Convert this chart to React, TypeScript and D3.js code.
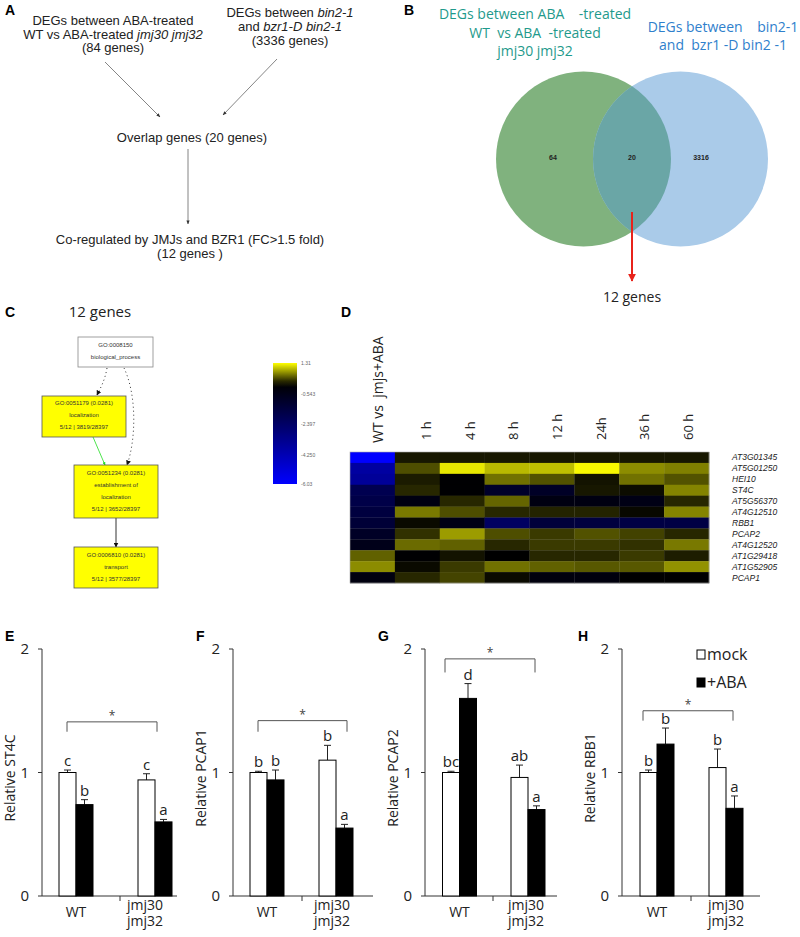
import React from 'react';
import * as d3 from 'd3';

// ---------------- Panel A: flow text ----------------
const flowLeft = ['DEGs between ABA-treated', 'WT vs ABA-treated ', 'jmj30 jmj32', '(84 genes)'];
const flowRight = ['DEGs between ', 'bin2-1', 'and ', 'bzr1-D bin2-1', '(3336 genes)'];
const flowOverlap = 'Overlap genes (20 genes)';
const flowFinal = ['Co-regulated by JMJs and BZR1 (FC>1.5 fold)', '(12 genes\u00a0)'];

// ---------------- Panel B: Venn ----------------
const vennTitleA = ['DEGs between ABA\u00a0\u00a0\u00a0\u00a0-treated', 'WT\u00a0\u00a0vs ABA\u00a0\u00a0-treated', 'jmj30 jmj32'];
const vennTitleB = ['DEGs between\u00a0\u00a0\u00a0\u00a0bin2-1', 'and\u00a0\u00a0bzr1\u00a0-D bin2\u00a0-1'];
const vennCounts = [64, 20, 3316];
const vennResult = '12 genes';

// ---------------- Panel C: GO graph ----------------
const goIds = ['GO:0008150', 'GO:0051179 (0.0281)', 'GO:0051234 (0.0281)', 'GO:0006810 (0.0281)'];
const goNames = [['biological_process'], ['localization'], ['establishment of', 'localization'], ['transport']];
const goCounts = ['', '5/12 | 3819/28397', '5/12 | 3652/28397', '5/12 | 3577/28397'];
const goTitle = '12 genes';

// ---------------- Panel D: heatmap ----------------
const genes = ['AT3G01345', 'AT5G01250', 'HEI10', 'ST4C', 'AT5G56370', 'AT4G12510', 'RBB1', 'PCAP2', 'AT4G12520', 'AT1G29418', 'AT1G52905', 'PCAP1'];
const heatColumns = ['WT vs\u00a0\u00a0jmjs+ABA', '1 h', '4 h', '8 h', '12 h', '24h', '36 h', '60 h'];
const heatValues = [
  [-6.03, 0.12, 0.12, 0.12, 0.12, 0.12, 0.12, 0.12],
  [-3.8, 0.4, 1.18, 0.95, 0.98, 1.28, 0.72, 0.66],
  [-3.6, 0.14, -0.05, 0.58, 0.42, 0.1, 0.58, 0.42],
  [-1.9, 0.2, -0.05, -1.0, -0.9, 0.12, 0.06, 0.68],
  [-1.7, -0.4, 0.2, 0.52, -0.4, -0.4, -0.5, 0.2],
  [-1.5, 0.62, 0.4, 0.2, 0.18, 0.18, 0.04, 0.68],
  [-1.3, 0.05, -0.5, -2.3, -1.4, -1.5, -1.6, -1.6],
  [-0.9, 0.25, 0.8, 0.4, 0.3, 0.42, 0.34, 0.2],
  [-0.6, 0.55, 0.5, 0.2, 0.3, 0.3, 0.25, 0.62],
  [0.5, -0.05, 0.1, 0.0, 0.2, 0.2, 0.3, 0.15],
  [0.72, 0.05, 0.3, 0.58, 0.5, 0.45, 0.45, 0.75],
  [-0.35, 0.2, 0.35, 0.05, -0.3, -0.3, 0.0, 0.0],
];
const colorMin = -6.03;
const colorMax = 1.31;
const colorbarTicks = [1.31, -0.543, -2.397, -4.25, -6.03];
const colorbarLabels = ['1.31', '-0.543', '-2.397', '-4.250', '-6.03'];

// ---------------- Panels E-H: bar charts ----------------
const barGroups = ['WT', 'jmj30 jmj32'];
const treatments = ['mock', '+ABA'];
const yTicks = [0, 1, 2];

const st4cMean = [1.0, 0.74, 0.94, 0.6];
const st4cErr = [0.02, 0.04, 0.05, 0.02];
const st4cLetters = ['c', 'b', 'c', 'a'];

const pcap1Mean = [1.0, 0.94, 1.1, 0.55];
const pcap1Err = [0.01, 0.08, 0.12, 0.03];
const pcap1Letters = ['b', 'b', 'b', 'a'];

const pcap2Mean = [1.0, 1.6, 0.96, 0.7];
const pcap2Err = [0.01, 0.12, 0.1, 0.03];
const pcap2Letters = ['bc', 'd', 'ab', 'a'];

const rbb1Mean = [1.0, 1.23, 1.04, 0.71];
const rbb1Err = [0.02, 0.13, 0.15, 0.1];
const rbb1Letters = ['b', 'b', 'b', 'a'];

const bracketTop = [1.41, 1.42, 1.92, 1.5];
const bracketLeg = [1.33, 1.33, 1.81, 1.42];

const SANS = 'Liberation Sans, Arial, sans-serif';
const MYR = 'Open Sans, Noto Sans, sans-serif';

function BarPanel({ letter, gene, mean, err, letters, top, leg, L, legend }: any) {
  const y = d3.scaleLinear().domain([0, 2]).range([896, 649]);
  const gx = d3.scalePoint<string>().domain(barGroups).range(L.groups);
  const bw = 17;
  const bars = mean.map((m: number, i: number) => {
    const g = barGroups[Math.floor(i / 2)];
    const t = i % 2;
    const x0 = (gx(g) as number) - bw + t * bw;
    return { m, e: err[i], l: letters[i], x0, t };
  });
  const jx = (gx(barGroups[1]) as number) + L.labelShift;
  return (
    <g>
      <text x={L.labelX} y={641} fontFamily={SANS} fontWeight="bold" fontSize={14}>{letter}</text>
      <text transform={`translate(${L.axisX - 27},778) rotate(-90)`} textAnchor="middle" fontFamily={MYR} fontSize={14} fill="#222">{'Relative ' + gene}</text>
      {yTicks.map((t) => (
        <g key={t}>
          <line x1={L.axisX - 4} x2={L.axisX} y1={y(t)} y2={y(t)} stroke="#333" />
          <text x={L.axisX - 13} y={y(t) + 5} textAnchor="end" fontFamily={MYR} fontSize={15} fill="#222">{t}</text>
        </g>
      ))}
      <line x1={L.axisX} x2={L.axisX} y1={y(0)} y2={y(2)} stroke="#333" />
      <line x1={L.axisX} x2={L.axisEnd} y1={y(0)} y2={y(0)} stroke="#333" />
      <line x1={L.midTick} x2={L.midTick} y1={y(0)} y2={y(0) + 5} stroke="#333" />
      {bars.map((b: any, i: number) => (
        <g key={i}>
          <line x1={b.x0 + bw / 2} x2={b.x0 + bw / 2} y1={y(b.m)} y2={y(b.m + b.e)} stroke="#222" />
          <line x1={b.x0 + bw / 2 - 3.5} x2={b.x0 + bw / 2 + 3.5} y1={y(b.m + b.e)} y2={y(b.m + b.e)} stroke="#222" />
          <rect x={b.x0} y={y(b.m)} width={bw} height={y(0) - y(b.m)} fill={b.t === 0 ? '#fff' : '#000'} stroke="#000" strokeWidth={1} />
          <text x={b.x0 + bw / 2} y={y(b.m + b.e) - 4} textAnchor="middle" fontFamily={MYR} fontSize={15} fill="#222">{b.l}</text>
        </g>
      ))}
      <path d={`M${L.bracket[0]},${y(leg)}V${y(top)}H${L.bracket[1]}V${y(leg)}`} fill="none" stroke="#555" />
      <text x={(L.bracket[0] + L.bracket[1]) / 2} y={y(top) - 2} textAnchor="middle" fontFamily={MYR} fontSize={12} fill="#444">*</text>
      <text x={gx('WT')} y={917} textAnchor="middle" fontFamily={MYR} fontSize={14} fill="#222">WT</text>
      <text textAnchor="middle" fontFamily={MYR} fontSize={14} fill="#222">
        {barGroups[1].split(' ').map((s, i) => (
          <tspan key={s} x={jx} y={910 + i * 15.5}>{s}</tspan>
        ))}
      </text>
      {legend && treatments.map((t, i) => (
        <g key={t}>
          <rect x={697} y={650 + i * 28} width={8} height={9} fill={i === 0 ? '#fff' : '#000'} stroke="#000" />
          <text x={707} y={660 + i * 28} fontFamily={MYR} fontSize={16} fill="#222">{t}</text>
        </g>
      ))}
    </g>
  );
}

export default function App() {
  const hx = d3.scaleBand<string>().domain(heatColumns).range([350, 709]);
  const hy = d3.scaleBand<string>().domain(genes).range([452, 583]);
  const heatColor = d3.scaleLinear<string>().domain([colorMin, 0, colorMax]).range(['#0000ff', '#000000', '#ffff00']);
  const hLabel = d3.scalePoint<string>().domain(heatColumns.slice(1)).range([431, 693]);
  const cbY = d3.scaleLinear().domain([colorMin, colorMax]).range([484, 363]);
  const stops = d3.range(0, 1.0001, 0.05).map((f) => ({ f, c: heatColor(colorMax - f * (colorMax - colorMin)) }));

  const vr = 87.5;
  const cA = { x: 583.5, y: 159 };
  const cB = { x: 680.5, y: 159 };

  const panels = [
    { letter: 'E', gene: 'ST4C', mean: st4cMean, err: st4cErr, letters: st4cLetters, L: { axisX: 42, axisEnd: 177, groups: [76, 155], labelShift: -10, midTick: 120, bracket: [67, 157], labelX: 5 } },
    { letter: 'F', gene: 'PCAP1', mean: pcap1Mean, err: pcap1Err, letters: pcap1Letters, L: { axisX: 233, axisEnd: 373, groups: [267, 336], labelShift: -4, midTick: 302, bracket: [258, 347], labelX: 196 } },
    { letter: 'G', gene: 'PCAP2', mean: pcap2Mean, err: pcap2Err, letters: pcap2Letters, L: { axisX: 425, axisEnd: 557, groups: [459.5, 528], labelShift: -2, midTick: 493, bracket: [445, 535], labelX: 378 } },
    { letter: 'H', gene: 'RBB1', mean: rbb1Mean, err: rbb1Err, letters: rbb1Letters, L: { axisX: 622, axisEnd: 760, groups: [657, 726], labelShift: 0, midTick: 691, bracket: [643, 733], labelX: 578 } },
  ];

  const goBoxes = [
    { x: 78, y: 337, w: 75, h: 30, ly: [345, 357], fill: '#fff', stroke: '#888' },
    { x: 42, y: 396, w: 84, h: 41, ly: [403, 415, 427], fill: '#ffff00', stroke: '#555' },
    { x: 74, y: 465, w: 84, h: 53, ly: [473, 485, 497, 509], fill: '#ffff00', stroke: '#555' },
    { x: 74, y: 547, w: 84, h: 41, ly: [555, 567, 579], fill: '#ffff00', stroke: '#555' },
  ];

  return (
    <svg width={800} height={937} viewBox="0 0 800 937" style={{ position: 'absolute', left: 0, top: 0, background: '#fff' }}>
      <defs>
        <marker id="arrA" viewBox="0 0 10 10" refX="9" refY="5" markerWidth="5" markerHeight="5" orient="auto">
          <path d="M0,1L10,5L0,9z" fill="#333" />
        </marker>
        <marker id="arrR" viewBox="0 0 10 10" refX="9" refY="5" markerWidth="4" markerHeight="4" orient="auto">
          <path d="M0,0L10,5L0,10z" fill="#e8231b" />
        </marker>
        <marker id="arrK" viewBox="0 0 10 10" refX="9" refY="5" markerWidth="5" markerHeight="5" orient="auto">
          <path d="M0,0L10,5L0,10z" fill="#111" />
        </marker>
        <marker id="arrG" viewBox="0 0 10 10" refX="9" refY="5" markerWidth="4" markerHeight="4" orient="auto">
          <path d="M0,0L10,5L0,10z" fill="#22dd22" />
        </marker>
        <linearGradient id="cbar" x1="0" y1="0" x2="0" y2="1">
          {stops.map((s) => <stop key={s.f} offset={s.f} stopColor={s.c} />)}
        </linearGradient>
        <clipPath id="clipA"><circle cx={cA.x} cy={cA.y} r={vr} /></clipPath>
      </defs>
      <rect width={800} height={937} fill="#fff" />

      {/* Panel A */}
      <text x={5} y={15} fontFamily={SANS} fontWeight="bold" fontSize={14}>A</text>
      <g fontFamily={SANS} fontSize={13} fill="#222" textAnchor="middle">
        <text x={113} y={25}>{flowLeft[0]}</text>
        <text x={113} y={38.5}>{flowLeft[1]}<tspan fontStyle="italic">{flowLeft[2]}</tspan></text>
        <text x={113} y={52}>{flowLeft[3]}</text>
        <text x={290} y={17}>{flowRight[0]}<tspan fontStyle="italic">{flowRight[1]}</tspan></text>
        <text x={290} y={31}>{flowRight[2]}<tspan fontStyle="italic">{flowRight[3]}</tspan></text>
        <text x={290} y={45}>{flowRight[4]}</text>
        <text x={192} y={142}>{flowOverlap}</text>
        <text x={190} y={244}>{flowFinal[0]}</text>
        <text x={190} y={258}>{flowFinal[1]}</text>
      </g>
      <line x1={105} y1={62} x2={160} y2={117} stroke="#666" strokeWidth={0.8} markerEnd="url(#arrA)" />
      <line x1={277} y1={59} x2={223} y2={115} stroke="#666" strokeWidth={0.8} markerEnd="url(#arrA)" />
      <line x1={188} y1={149} x2={188} y2={224} stroke="#666" strokeWidth={0.8} markerEnd="url(#arrA)" />

      {/* Panel B */}
      <text x={404} y={15} fontFamily={SANS} fontWeight="bold" fontSize={14}>B</text>
      <g fontFamily={MYR} fontSize={14} fill="#1f9a8c" textAnchor="middle">
        {vennTitleA.map((t, i) => <text key={i} x={535} y={19 + i * 18.5}>{t}</text>)}
      </g>
      <g fontFamily={MYR} fontSize={14} fill="#2f80cc" textAnchor="middle">
        {vennTitleB.map((t, i) => <text key={i} x={723} y={32 + i * 17.5}>{t}</text>)}
      </g>
      <circle cx={cA.x} cy={cA.y} r={vr} fill="#80b27e" />
      <circle cx={cB.x} cy={cB.y} r={vr} fill="#aacbe9" />
      <circle cx={cB.x} cy={cB.y} r={vr} fill="#6aa6a6" clipPath="url(#clipA)" />
      <g fontFamily={SANS} fontSize={7} fontWeight="bold" fill="#222" textAnchor="middle">
        <text x={553} y={160}>{vennCounts[0]}</text>
        <text x={632} y={160}>{vennCounts[1]}</text>
        <text x={701} y={160}>{vennCounts[2]}</text>
      </g>
      <line x1={632} y1={212} x2={632} y2={281} stroke="#e8231b" strokeWidth={2} markerEnd="url(#arrR)" />
      <text x={632} y={302} textAnchor="middle" fontFamily={MYR} fontSize={14} fill="#222">{vennResult}</text>

      {/* Panel C */}
      <text x={5} y={317} fontFamily={SANS} fontWeight="bold" fontSize={14}>C</text>
      <text x={100} y={317} textAnchor="middle" fontFamily={MYR} fontSize={15} fill="#222">{goTitle}</text>
      <path d="M107,368 C105,380 101,387 97,395" fill="none" stroke="#333" strokeWidth={1} strokeDasharray="1 3" markerEnd="url(#arrK)" />
      <path d="M124,368 C137,395 136,440 127,465" fill="none" stroke="#333" strokeWidth={1} strokeDasharray="1 3" markerEnd="url(#arrK)" />
      <line x1={93} y1={437} x2={105} y2={465} stroke="#22dd22" strokeWidth={0.8} markerEnd="url(#arrG)" />
      <line x1={116} y1={518} x2={116} y2={547} stroke="#333" strokeWidth={1} markerEnd="url(#arrK)" />
      {goBoxes.map((b, i) => {
        const lines = [goIds[i], ...goNames[i], goCounts[i]].filter((s) => s);
        return (
          <g key={i}>
            <rect x={b.x} y={b.y} width={b.w} height={b.h} fill={b.fill} stroke={b.stroke} strokeWidth={0.8} />
            {lines.map((s, j) => (
              <text key={j} x={b.x + b.w / 2} y={b.ly[j] + 2} textAnchor="middle" fontFamily={SANS} fontSize={6} fill="#333">{s}</text>
            ))}
          </g>
        );
      })}

      {/* Color bar */}
      <rect x={273} y={cbY(colorMax)} width={24} height={cbY(colorMin) - cbY(colorMax)} fill="url(#cbar)" />
      {colorbarTicks.map((t, i) => (
        <text key={i} x={301} y={cbY(t) + 2} fontFamily={SANS} fontSize={5} fill="#666">{colorbarLabels[i]}</text>
      ))}

      {/* Panel D */}
      <text x={341} y={317} fontFamily={SANS} fontWeight="bold" fontSize={14}>D</text>
      <text transform="translate(383,443) rotate(-90)" fontFamily={MYR} fontSize={14} fill="#222">{heatColumns[0]}</text>
      {heatColumns.slice(1).map((c) => (
        <text key={c} transform={`translate(${hLabel(c)},440) rotate(-90)`} fontFamily={MYR} fontSize={13} fill="#222">{c}</text>
      ))}
      {genes.map((g, r) => heatColumns.map((c, k) => (
        <rect key={g + c} x={hx(c)} y={hy(g)} width={hx.bandwidth() + 0.3} height={hy.bandwidth() + 0.3} fill={heatColor(heatValues[r][k])} />
      )))}
      <rect x={350} y={452} width={359} height={131} fill="none" stroke="#aaa" strokeWidth={0.6} />
      {genes.map((g) => (
        <text key={g} x={732} y={(hy(g) as number) + hy.bandwidth() / 2 + 3} fontFamily={SANS} fontStyle="italic" fontSize={8.5} fill="#222">{g}</text>
      ))}

      {/* Panels E-H */}
      {panels.map((p, i) => (
        <BarPanel key={p.letter} {...p} top={bracketTop[i]} leg={bracketLeg[i]} legend={i === 3} />
      ))}
    </svg>
  );
}
